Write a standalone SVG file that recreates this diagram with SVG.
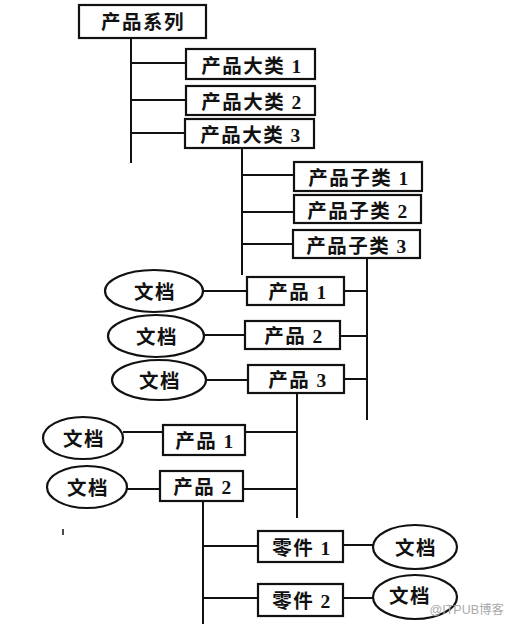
<svg xmlns="http://www.w3.org/2000/svg" width="509" height="624" viewBox="0 0 509 624">
<style>
.box{fill:#fff;stroke:#111;stroke-width:2.2}
.ell{fill:#fff;stroke:#111;stroke-width:2.2}
.t{font-family:"Liberation Serif","Noto Sans CJK SC",serif;font-size:19.5px;fill:#111;text-anchor:middle;dominant-baseline:central;font-weight:bold;letter-spacing:1.5px}
.ln{stroke:#111;stroke-width:2;fill:none}
.wm{font-family:"Liberation Sans","Noto Sans CJK SC",sans-serif;font-size:12.5px;fill:#aaa;text-anchor:end}
</style>
<rect width="509" height="624" fill="#fff"/>
<g id="connectors" class="ln">
<path d="M131 38V163M131 63H186M131 100H186M131 133H185"/>
<path d="M242 148V275M242 175H294M242 212H294M242 244H293"/>
<path d="M367 258V420M344 291H367M340 336H367M344 379H367"/>
<path d="M203 291H247M204 335H245M206 380H248"/>
<path d="M297 393V518M245 432H297M243 489H297"/>
<path d="M123 432H163M127 489H160"/>
<path d="M203 501V624M203 546H258M203 598H258"/>
<path d="M343 545H373M343 598H373"/>
<path d="M63 529V535" stroke-width="1.5"/>
</g>
<g id="root"><rect class="box" x="79" y="5" width="127" height="33"/><text class="t" x="143" y="22">产品系列</text></g>
<g id="cat1"><rect class="box" x="186" y="49" width="129" height="30"/><text class="t" x="252" y="66">产品大类 1</text></g>
<g id="cat2"><rect class="box" x="186" y="86" width="129" height="29"/><text class="t" x="252" y="102">产品大类 2</text></g>
<g id="cat3"><rect class="box" x="185" y="119" width="129" height="29"/><text class="t" x="251" y="135">产品大类 3</text></g>
<g id="sub1"><rect class="box" x="294" y="162" width="128" height="29"/><text class="t" x="359" y="178">产品子类 1</text></g>
<g id="sub2"><rect class="box" x="294" y="195" width="127" height="28"/><text class="t" x="358" y="211">产品子类 2</text></g>
<g id="sub3"><rect class="box" x="293" y="230" width="127" height="28"/><text class="t" x="357" y="246">产品子类 3</text></g>
<g id="prod1"><rect class="box" x="247" y="277" width="97" height="28"/><text class="t" x="298" y="292">产品 1</text></g>
<g id="prod2"><rect class="box" x="245" y="321" width="95" height="28"/><text class="t" x="294" y="336">产品 2</text></g>
<g id="prod3"><rect class="box" x="248" y="365" width="96" height="28"/><text class="t" x="298" y="380">产品 3</text></g>
<g id="doc1"><ellipse class="ell" cx="154" cy="291" rx="49" ry="21"/><text class="t" x="155" y="292">文档</text></g>
<g id="doc2"><ellipse class="ell" cx="156" cy="336" rx="48" ry="21"/><text class="t" x="157" y="337">文档</text></g>
<g id="doc3"><ellipse class="ell" cx="159" cy="380" rx="47" ry="20"/><text class="t" x="160" y="381">文档</text></g>
<g id="prodB1"><rect class="box" x="163" y="425" width="82" height="30"/><text class="t" x="205" y="441">产品 1</text></g>
<g id="prodB2"><rect class="box" x="160" y="471" width="83" height="30"/><text class="t" x="203" y="487">产品 2</text></g>
<g id="docB1"><ellipse class="ell" cx="83" cy="438" rx="40" ry="21"/><text class="t" x="84" y="439">文档</text></g>
<g id="docB2"><ellipse class="ell" cx="87" cy="487" rx="40" ry="21"/><text class="t" x="88" y="488">文档</text></g>
<g id="part1"><rect class="box" x="258" y="531" width="85" height="31"/><text class="t" x="302" y="548">零件 1</text></g>
<g id="part2"><rect class="box" x="258" y="584" width="85" height="32"/><text class="t" x="302" y="601">零件 2</text></g>
<g id="docP1"><ellipse class="ell" cx="415" cy="547" rx="42" ry="22"/><text class="t" x="416" y="548">文档</text></g>
<g id="docP2"><ellipse class="ell" cx="415" cy="597" rx="42" ry="22"/><text class="t" x="410" y="596">文档</text></g>
<text class="wm" x="504" y="614">@ITPUB博客</text>
</svg>
